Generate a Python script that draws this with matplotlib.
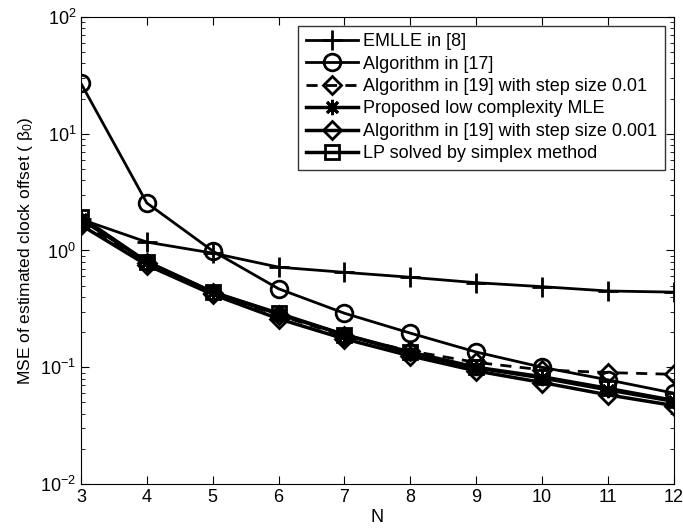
import matplotlib
matplotlib.use("Agg")
import matplotlib.pyplot as plt
from matplotlib.ticker import LogLocator, NullFormatter

plt.rcParams['font.family'] = ['Liberation Sans', 'DejaVu Sans']
plt.rcParams['mathtext.fontset'] = 'custom'
plt.rcParams['mathtext.rm'] = 'Liberation Sans'
plt.rcParams['mathtext.it'] = 'Liberation Sans:italic'

N = [3, 4, 5, 6, 7, 8, 9, 10, 11, 12]
emlle = [1.85, 1.18, 0.95, 0.72, 0.65, 0.59, 0.53, 0.49, 0.45, 0.44]
alg17 = [27.0, 2.55, 0.99, 0.47, 0.29, 0.196, 0.135, 0.100, 0.078, 0.060]
alg19_001 = [1.75, 0.78, 0.43, 0.28, 0.185, 0.138, 0.110, 0.095, 0.090, 0.087]
proposed = [1.85, 0.80, 0.44, 0.285, 0.19, 0.132, 0.099, 0.081, 0.064, 0.051]
alg19_0001 = [1.65, 0.75, 0.42, 0.26, 0.175, 0.125, 0.093, 0.074, 0.058, 0.047]
lp = [1.94, 0.80, 0.44, 0.29, 0.19, 0.135, 0.100, 0.083, 0.066, 0.052]

labels = ['EMLLE in [8]', 'Algorithm in [17]',
          'Algorithm in [19] with step size 0.01',
          'Proposed low complexity MLE',
          'Algorithm in [19] with step size 0.001',
          'LP solved by simplex method']

fig = plt.figure(figsize=(6.83, 5.31), dpi=100)
ax = fig.add_axes([0.1186, 0.0885, 0.868, 0.8795])

kw = dict(color='black', markerfacecolor='none', markeredgecolor='black')
ax.plot(N, emlle, marker='+', ms=14, mew=2, lw=2, label=labels[0], **kw)
ax.plot(N, alg17, marker='o', ms=12, mew=2, lw=2, label=labels[1], **kw)
ax.plot(N, alg19_001, marker='D', ms=9, mew=2, lw=2, ls=(0, (4, 3)), label=labels[2], **kw)
ax.plot(N, proposed, marker=(8, 2, 0), ms=11, mew=2, lw=2.5, label=labels[3], **kw)
ax.plot(N, alg19_0001, marker='D', ms=9, mew=2, lw=2.5, label=labels[4], **kw)
ax.plot(N, lp, marker='s', ms=10, mew=2, lw=2.5, label=labels[5], **kw)

ax.set_yscale('log')
ax.set_xlim(3, 12)
ax.set_ylim(1e-2, 1e2)
ax.set_xticks(N)
ax.yaxis.set_major_locator(LogLocator(base=10, numticks=10))
ax.yaxis.set_minor_locator(LogLocator(base=10, subs=range(2, 10), numticks=10))
ax.yaxis.set_minor_formatter(NullFormatter())
ax.tick_params(which='both', direction='in', top=True, right=True, labelsize=13)
ax.tick_params(which='major', length=6)
ax.tick_params(which='minor', length=3)
ax.set_xlabel('N', fontsize=13, labelpad=2)
ax.set_ylabel('MSE of estimated clock offset ( β$_0$)', fontsize=12.5)

leg = ax.legend(loc='upper right', fontsize=13, frameon=True, fancybox=False,
                edgecolor='black', handlelength=2.9, labelspacing=0.3,
                borderpad=0.4, handletextpad=0.3, borderaxespad=0.5)
leg.get_frame().set_linewidth(1.0)

fig.savefig('out.png', dpi=100)
